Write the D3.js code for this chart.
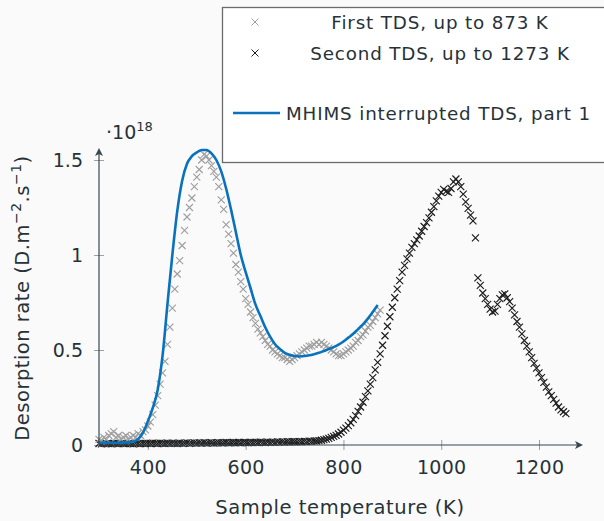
<!DOCTYPE html>
<html>
<head>
<meta charset="utf-8">
<script src="https://cdn.jsdelivr.net/npm/d3@7"></script>
<style>
  html, body { margin: 0; padding: 0; background: #fafafa; }
  svg { display: block; }
  text { font-family: "DejaVu Sans", sans-serif; fill: #263238; }
</style>
</head>
<body>
<svg id="chart" width="604" height="521"></svg>
<script>
// ---------- DATA ----------
// First TDS (up to 873 K): temperature start/step (K) and desorption rate (x1e18 D.m^-2.s^-1)
const firstStart = 300, firstStep = 5;
const firstValues = [
  0.03,0.02,0.04,0.03,0.05,0.06,0.07,0.04,0.05,0.03,
  0.04,0.05,0.03,0.04,0.05,0.04,0.06,0.05,0.07,0.08,
  0.10,0.12,0.16,0.21,0.26,0.32,0.38,0.44,0.53,0.62,
  0.72,0.82,0.90,0.97,1.05,1.13,1.20,1.25,1.30,1.36,
  1.41,1.45,1.50,1.53,1.52,1.50,1.47,1.44,1.41,1.36,
  1.29,1.24,1.16,1.11,1.06,1.01,0.95,0.91,0.86,0.82,
  0.77,0.74,0.70,0.67,0.64,0.61,0.59,0.57,0.55,0.53,
  0.52,0.50,0.49,0.48,0.47,0.46,0.46,0.45,0.44,0.45,
  0.46,0.47,0.48,0.49,0.50,0.51,0.52,0.52,0.53,0.54,
  0.53,0.54,0.53,0.52,0.51,0.50,0.49,0.48,0.47,0.47,
  0.48,0.49,0.50,0.51,0.52,0.54,0.55,0.57,0.58,0.60,
  0.62,0.63,0.65,0.67,0.69,0.71
];

// Second TDS (up to 1273 K)
const secondStart = 300, secondStep = 5;
const secondValues = [
  0.008,0.006,0.009,0.007,0.008,0.006,0.009,0.008,0.007,0.009,
  0.008,0.007,0.009,0.008,0.006,0.009,0.008,0.007,0.009,0.008,
  0.009,0.008,0.010,0.009,0.008,0.010,0.009,0.008,0.010,0.009,
  0.010,0.009,0.008,0.010,0.009,0.010,0.011,0.009,0.010,0.011,
  0.010,0.011,0.010,0.012,0.010,0.011,0.012,0.010,0.011,0.012,
  0.011,0.012,0.013,0.011,0.012,0.013,0.012,0.013,0.012,0.014,
  0.013,0.012,0.014,0.013,0.014,0.013,0.015,0.014,0.013,0.015,
  0.014,0.015,0.014,0.016,0.015,0.016,0.015,0.017,0.016,0.017,
  0.017,0.016,0.018,0.017,0.019,0.018,0.020,0.019,0.021,
  0.021,0.023,0.025,0.028,0.031,0.035,0.040,0.045,0.051,0.058,
  0.067,0.078,0.089,0.102,0.117,0.135,0.155,0.177,0.200,0.225,
  0.255,0.285,0.320,0.355,0.395,0.435,0.480,0.525,0.575,0.625,
  0.675,0.725,0.775,0.820,0.865,0.910,0.945,0.980,1.010,1.040,
  1.060,1.080,1.100,1.125,1.150,1.170,1.195,1.225,1.255,1.285,
  1.310,1.330,1.345,1.335,1.330,1.350,1.385,1.400,1.385,1.360,
  1.320,1.280,1.245,1.210,1.180,1.090,0.880,0.840,0.800,0.770,
  0.740,0.715,0.700,0.705,0.740,0.770,0.790,0.795,0.775,0.755,
  0.720,0.685,0.650,0.620,0.585,0.550,0.520,0.490,0.460,0.430,
  0.405,0.380,0.355,0.330,0.305,0.280,0.260,0.240,0.220,0.200,
  0.185,0.175,0.165
];

// MHIMS interrupted TDS, part 1 (model curve)
const mhimsStart = 300, mhimsStep = 10;
const mhimsValues = [
  0.012,0.012,0.012,0.012,0.012,0.013,0.014,0.018,0.030,0.065,
  0.125,0.195,0.290,0.470,0.740,1.000,1.230,1.390,1.480,1.520,
  1.540,1.553,1.553,1.535,1.500,1.440,1.350,1.240,1.120,1.000,
  0.910,0.825,0.740,0.680,0.620,0.570,0.530,0.505,0.485,0.475,
  0.468,0.466,0.468,0.472,0.478,0.485,0.495,0.505,0.515,0.528,
  0.545,0.565,0.585,0.610,0.635,0.665,0.700,0.737
];

const xTicks = [400, 600, 800, 1000, 1200];
const yTicks = [0, 0.5, 1, 1.5];
const yTickLabels = ["0", "0.5", "1", "1.5"];
const legendLabels = ["First TDS, up to 873 K", "Second TDS, up to 1273 K", "MHIMS interrupted TDS, part 1"];

// ---------- BUILD ----------
const toPoints = (start, step, vals) => vals.map((v, i) => ({ t: start + i * step, v }));
const first = toPoints(firstStart, firstStep, firstValues);
const second = toPoints(secondStart, secondStep, secondValues);
const mhims = toPoints(mhimsStart, mhimsStep, mhimsValues);

const svg = d3.select("#chart");
const x = d3.scaleLinear().domain([300, 1290]).range([99, 583]);
const y = d3.scaleLinear().domain([0, 1.55]).range([445, 150.5]);

const axisCol = "#37474f";
const tickCol = "#9aa0a3";
const FONT = "\"DejaVu Sans\", sans-serif";
const TICKFS = "19px";
const LEGFS = "18.3px";
const LEGLS = "0.85px";

// x axis
const gx = svg.append("g").attr("transform", `translate(0,${y(0)})`)
  .call(d3.axisBottom(x).tickValues(xTicks).tickSize(0).tickFormat(d3.format("d")));
gx.select(".domain").remove();
gx.selectAll(".tick text").attr("dy", null).attr("y", 29).style("font-size", TICKFS)
  .style("font-family", FONT).style("letter-spacing", "0.3px").attr("fill", "#263238");
gx.selectAll(".tick").append("line").attr("y1", -5).attr("y2", 5).attr("stroke", tickCol).attr("stroke-width", 1);

// y axis
const gy = svg.append("g").attr("transform", `translate(${x(300)},0)`)
  .call(d3.axisLeft(y).tickValues(yTicks).tickSize(0).tickFormat((d, i) => yTickLabels[i]));
gy.select(".domain").remove();
gy.selectAll(".tick text").attr("x", -16).attr("dy", "0.36em").style("font-size", TICKFS)
  .style("font-family", FONT).attr("fill", "#263238");
gy.selectAll(".tick").append("line").attr("x1", -5).attr("x2", 5).attr("stroke", tickCol).attr("stroke-width", 1);

// markers
const cross = (s) => `M${-s},${-s}L${s},${s}M${-s},${s}L${s},${-s}`;
const plot = svg.append("g");
plot.append("g").selectAll("path").data(second).join("path")
  .attr("transform", d => `translate(${x(d.t)},${y(d.v)})`)
  .attr("d", cross(3.5)).attr("stroke", "#1c1c1c").attr("stroke-width", 1.15).attr("fill", "none");
plot.append("g").selectAll("path").data(first).join("path")
  .attr("transform", d => `translate(${x(d.t)},${y(d.v)})`)
  .attr("d", cross(3.5)).attr("stroke", "#9e9e9e").attr("stroke-width", 1.1).attr("fill", "none");

plot.append("path").datum(mhims)
  .attr("d", d3.line().x(d => x(d.t)).y(d => y(d.v)).curve(d3.curveMonotoneX))
  .attr("fill", "none").attr("stroke", "#0a72bd").attr("stroke-width", 2.6);

// axis lines with arrows
svg.append("line").attr("x1", x(300)).attr("x2", 581).attr("y1", y(0)).attr("y2", y(0))
  .attr("stroke", axisCol).attr("stroke-width", 1.2);
svg.append("line").attr("x1", x(300)).attr("x2", x(300)).attr("y1", y(0)).attr("y2", 150)
  .attr("stroke", axisCol).attr("stroke-width", 1.2);
svg.append("path").attr("d", `M583,${y(0)}L575,${y(0) - 4}L577,${y(0)}L575,${y(0) + 4}Z`).attr("fill", axisCol);
svg.append("path").attr("d", `M${x(300)},148L${x(300) - 4},156L${x(300)},154L${x(300) + 4},156Z`).attr("fill", axisCol);

// multiplier label
const mult = svg.append("text").attr("x", 106).attr("y", 139).style("font-size", TICKFS);
mult.append("tspan").text("·10");
mult.append("tspan").attr("dy", -8).style("font-size", "13px").text("18");

// axis titles
svg.append("text").attr("x", 340).attr("y", 514).attr("text-anchor", "middle")
  .style("font-size", "19.5px").style("letter-spacing", "0.6px").text("Sample temperature (K)");
const yl = svg.append("text").attr("transform", "translate(29,298) rotate(-90)")
  .attr("text-anchor", "middle").style("font-size", "19.5px").style("letter-spacing", "0.5px");
yl.append("tspan").text("Desorption rate (D.m");
yl.append("tspan").attr("dy", -8).style("font-size", "14px").text("−2");
yl.append("tspan").attr("dy", 8).text(".s");
yl.append("tspan").attr("dy", -8).style("font-size", "14px").text("−1");
yl.append("tspan").attr("dy", 8).text(")");

// legend
const lg = svg.append("g");
lg.append("rect").attr("x", 222.5).attr("y", 7.5).attr("width", 400).attr("height", 155)
  .attr("fill", "#ffffff").attr("stroke", "#6b6b6b").attr("stroke-width", 1.3);
lg.append("path").attr("transform", "translate(255,22)").attr("d", cross(3.5))
  .attr("stroke", "#9e9e9e").attr("stroke-width", 1).attr("fill", "none");
lg.append("path").attr("transform", "translate(255,53)").attr("d", cross(3.5))
  .attr("stroke", "#1c1c1c").attr("stroke-width", 1).attr("fill", "none");
lg.append("line").attr("x1", 233).attr("x2", 280).attr("y1", 113).attr("y2", 113)
  .attr("stroke", "#0a72bd").attr("stroke-width", 2.6);
lg.append("text").attr("x", 440).attr("y", 22).attr("dy", "0.36em").attr("text-anchor", "middle")
  .style("font-size", LEGFS).style("letter-spacing", LEGLS).text(legendLabels[0]);
lg.append("text").attr("x", 440).attr("y", 53).attr("dy", "0.36em").attr("text-anchor", "middle")
  .style("font-size", LEGFS).style("letter-spacing", LEGLS).text(legendLabels[1]);
lg.append("text").attr("x", 286).attr("y", 113).attr("dy", "0.36em").attr("text-anchor", "start")
  .style("font-size", LEGFS).style("letter-spacing", LEGLS).text(legendLabels[2]);
</script>
</body>
</html>
